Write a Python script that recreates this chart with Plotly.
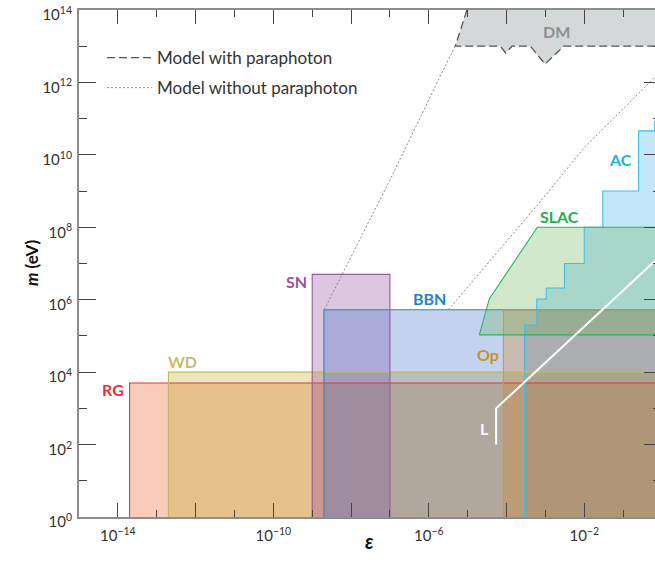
import plotly.graph_objects as go

# ---------------- excluded regions in the (epsilon, m [eV]) plane ----------------
# polygons run past the plotted window so that only the visible edges show
RG_EPS = [2e-14, 10, 10, 2e-14, 2e-14]
RG_M = [0.1, 0.1, 5e3, 5e3, 0.1]

WD_EPS = [2e-13, 10, 10, 2e-13, 2e-13]
WD_M = [0.1, 0.1, 1e4, 1e4, 0.1]

SN_EPS = [1e-9, 1e-7, 1e-7, 1e-9, 1e-9]
SN_M = [0.1, 0.1, 5e6, 5e6, 0.1]

BBN_EPS = [2e-9, 10, 10, 2e-9, 2e-9]
BBN_M = [0.1, 0.1, 5.3e5, 5.3e5, 0.1]

OP_EPS = [8.3e-5, 10, 10, 8.3e-5, 8.3e-5]
OP_M = [0.1, 0.1, 5.3e5, 5.3e5, 0.1]

SLAC_EPS = [2.0e-5, 3.6e-5, 6.2e-4, 10, 10, 2.0e-5]
SLAC_M = [1.07e5, 1.05e6, 1e8, 1e8, 1.07e5, 1.07e5]

AC_EPS = [2.9e-4, 2.9e-4, 6.0e-4, 6.0e-4, 1.05e-3, 1.05e-3, 3.1e-3, 3.1e-3,
          1e-2, 1e-2, 3.0e-2, 3.0e-2, 0.25, 0.25, 0.65, 0.65, 10, 10, 2.9e-4]
AC_M = [0.1, 2.0e5, 2.0e5, 1.05e6, 1.05e6, 2.1e6, 2.1e6, 1e7,
        1e7, 1e8, 1e8, 1e9, 1e9, 4.6e10, 4.6e10, 8.3e10, 8.3e10, 0.1, 0.1]

# dark-matter region, bounded below by the paraphoton model curve
DM_EPS = [9.6e-6, 4.8e-6, 6.9e-5, 9.5e-5, 1.38e-4, 4.1e-4, 9.8e-4, 2.95e-3, 10]
DM_M = [1e14, 1e13, 1e13, 6.5e12, 1e13, 1e13, 3.2e12, 1e13, 1e13]

# model curves without a paraphoton
NOPARA1_EPS = [2.04e-9, 1e-7, 1.95e-6, 4.8e-6]
NOPARA1_M = [5.3e5, 2.0e9, 1.45e12, 1.02e13]
NOPARA2_EPS = [3.2e-6, 8.1e-4, 1e-2, 0.68]
NOPARA2_M = [5.3e5, 5.75e8, 1.6e10, 1.45e12]

# laser experiments
L_EPS = [5.4e-5, 5.4e-5, 1.0]
L_M = [1e2, 1e3, 1.8e7]

FONT = "Lato"

# fill colour (rgba) and edge colour of each region, bottom layer first
regions = [
    ("AC", AC_EPS, AC_M, "rgba(55,172,232,0.3)", "#3ec0ea"),
    ("RG", RG_EPS, RG_M, "rgba(235,82,22,0.3)", "#e8343c"),
    ("WD", WD_EPS, WD_M, "rgba(188,172,32,0.3)", "#c4b65a"),
    ("SN", SN_EPS, SN_M, "rgba(138,65,152,0.3)", "#9a56a2"),
    ("BBN", BBN_EPS, BBN_M, "rgba(55,108,198,0.3)", "#2a88cc"),
    ("Op", OP_EPS, OP_M, "rgba(215,130,40,0.3)", "#d8962c"),
    ("SLAC", SLAC_EPS, SLAC_M, "rgba(105,178,88,0.3)", "#2bb55a"),
]

fig = go.Figure()

for name, ex, my, fc, lc in regions:
    fig.add_trace(go.Scatter(x=ex, y=my, mode="lines", fill="toself",
                             fillcolor=fc, line=dict(width=0),
                             hoverinfo="skip", showlegend=False))

# dark-matter fill
fig.add_trace(go.Scatter(x=DM_EPS + [10, 9.6e-6], y=DM_M + [1e14, 1e14],
                         mode="lines", fill="toself", fillcolor="#d5d8d8",
                         line=dict(width=0), hoverinfo="skip", showlegend=False))

# region outlines on top of all fills
for name, ex, my, fc, lc in regions:
    fig.add_trace(go.Scatter(x=ex, y=my, mode="lines",
                             line=dict(color=lc, width=1.1),
                             hoverinfo="skip", showlegend=False))

# model curves
fig.add_trace(go.Scatter(x=DM_EPS, y=DM_M, mode="lines",
                         line=dict(color="#555555", width=1.3, dash="8px,4px"),
                         name="Model with paraphoton", legend="legend",
                         hoverinfo="skip"))
fig.add_trace(go.Scatter(x=NOPARA1_EPS, y=NOPARA1_M, mode="lines",
                         line=dict(color="#8a8a8a", width=1, dash="2px,2px"),
                         name="Model without paraphoton", legend="legend2",
                         hoverinfo="skip"))
fig.add_trace(go.Scatter(x=NOPARA2_EPS, y=NOPARA2_M, mode="lines",
                         line=dict(color="#8a8a8a", width=1, dash="2px,2px"),
                         showlegend=False, hoverinfo="skip"))

# laser line
fig.add_trace(go.Scatter(x=L_EPS, y=L_M, mode="lines",
                         line=dict(color="white", width=2),
                         showlegend=False, hoverinfo="skip"))

# carrier for the right-hand tick marks
fig.add_trace(go.Scatter(x=[1e-10], y=[1e3], yaxis="y2", mode="markers",
                         marker=dict(opacity=0), showlegend=False,
                         hoverinfo="skip"))

# region labels (log10 coordinates)
labels = [
    ("RG", -14.125, 3.51, "#e8303c"),
    ("WD", -12.35, 4.29, "#c9bd6c"),
    ("SN", -9.415, 6.50, "#a0509e"),
    ("BBN", -5.98, 6.02, "#2482c4"),
    ("Op", -4.47, 4.48, "#c8922c"),
    ("SLAC", -2.645, 8.30, "#22b04a"),
    ("AC", -1.06, 9.86, "#1fb0e8"),
    ("DM", -2.72, 13.41, "#8e9090"),
    ("L", -4.575, 2.45, "#ffffff"),
]
for txt, lx, ly, col in labels:
    fig.add_annotation(x=lx, y=ly, xref="x", yref="y", text=f"<b>{txt}</b>",
                       showarrow=False, font=dict(family=FONT, size=16, color=col))

# axis titles
fig.add_annotation(x=-0.104, y=0.5, xref="paper", yref="paper",
                   text="<b><i>m</i> (eV)</b>", textangle=-90, showarrow=False,
                   font=dict(family=FONT, size=17, color="#111"))
fig.add_annotation(x=0.505, y=-0.075, xref="paper", yref="paper",
                   text="<b><i>ε</i></b>", showarrow=False,
                   font=dict(family=FONT, size=20, color="#111"))

# ticks
x_major = [10.0 ** k for k in range(-14, 0, 2)]
x_text = [f"10<sup>−{-k}</sup>" if k in (-14, -10, -6, -2) else ""
          for k in range(-14, 0, 2)]
x_minor = [10.0 ** k for k in range(-13, 0, 2)]
y_major = [10.0 ** k for k in range(0, 15, 2)]
y_text = [f"10<sup>{k}</sup>" for k in range(0, 15, 2)]
y_minor = [10.0 ** k for k in range(1, 14, 2)]

AX_LINE = "#8c8c8c"
TICK = "#444444"
TICK_FONT = dict(family=FONT, size=15, color="#333")
LEG_FONT = dict(family=FONT, size=17, color="#333")

fig.update_layout(
    width=655, height=568,
    margin=dict(l=79, r=0, t=10, b=51, autoexpand=False),
    paper_bgcolor="white", plot_bgcolor="white",
    font=dict(family=FONT, size=13, color="#333"),
    xaxis=dict(type="log", range=[-15, -0.18], showgrid=False, zeroline=False,
               showline=True, linecolor=AX_LINE, linewidth=2, mirror="ticks",
               ticks="inside", ticklen=14, tickwidth=1.2, tickcolor=TICK,
               tickvals=x_major, ticktext=x_text, ticklabelstandoff=4,
               automargin=False, tickfont=TICK_FONT,
               minor=dict(tickvals=x_minor, ticks="inside", ticklen=7,
                          tickwidth=1.2, tickcolor=TICK)),
    yaxis=dict(type="log", range=[0, 14], showgrid=False, zeroline=False,
               showline=True, linecolor=AX_LINE, linewidth=2, mirror=False,
               ticks="inside", ticklen=17, tickwidth=1.2, tickcolor=TICK,
               tickvals=y_major, ticktext=y_text, ticklabelstandoff=2,
               ticklabelshift=5, ticklabeloverflow="allow", automargin=False,
               tickfont=TICK_FONT,
               minor=dict(tickvals=y_minor, ticks="inside", ticklen=8,
                          tickwidth=1.2, tickcolor=TICK)),
    yaxis2=dict(type="log", range=[0, 14], overlaying="y", side="right",
                showgrid=False, zeroline=False, showline=False,
                showticklabels=False, ticks="inside", ticklen=11,
                tickwidth=1.2, tickcolor=TICK, tickvals=y_major,
                automargin=False,
                minor=dict(tickvals=y_minor, ticks="inside", ticklen=2,
                           tickwidth=1.2, tickcolor=TICK)),
    legend=dict(x=0.04, y=0.905, xanchor="left", yanchor="middle",
                bgcolor="rgba(0,0,0,0)", itemwidth=45, font=LEG_FONT),
    legend2=dict(x=0.04, y=0.846, xanchor="left", yanchor="middle",
                 bgcolor="rgba(0,0,0,0)", itemwidth=45, font=LEG_FONT),
)

fig.write_html("out.html")
